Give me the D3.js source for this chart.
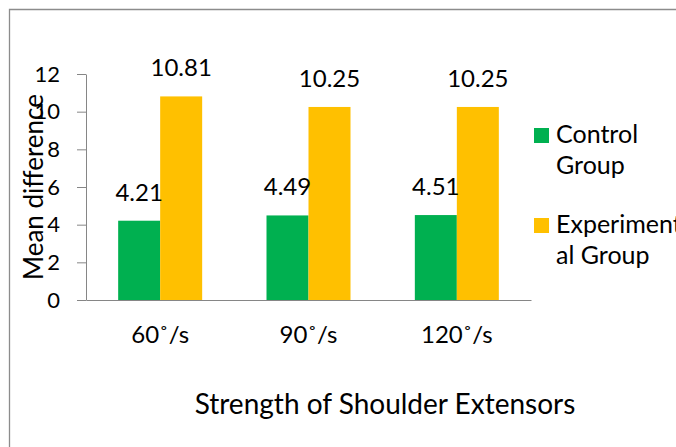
<!DOCTYPE html>
<html>
<head>
<meta charset="utf-8">
<script src="https://cdn.jsdelivr.net/npm/d3@7"></script>
<style>
  body { margin: 0; background: #fff; }
  text { font-family: Lato, "Liberation Sans", sans-serif; fill: #000; }
</style>
</head>
<body>
<div id="chart"></div>
<script>
// data
var categories = ["60˚/s", "90˚/s", "120˚/s"];
var seriesNames = ["Control Group", "Experimental Group"];
var controlValues = [4.21, 4.49, 4.51];
var experimentalValues = [10.81, 10.25, 10.25];
var yTicks = [0, 2, 4, 6, 8, 10, 12];
var legendLines = [["Control", "Group"], ["Experiment", "al Group"]];
var colors = ["#00B050", "#FFC000"];

var width = 676, height = 447;

var svg = d3.select("#chart").append("svg")
    .attr("width", width)
    .attr("height", height);

// outer chart border (only top and left are inside the picture)
svg.append("path")
    .attr("d", "M9.5," + height + "V9.5H" + width)
    .attr("fill", "none")
    .attr("stroke", "#8c8c8c")
    .attr("stroke-width", 1.3);

var x0 = d3.scaleBand()
    .domain(categories)
    .range([86, 531]);

var barW = 42;
var x1 = d3.scaleBand()
    .domain(seriesNames)
    .range([(x0.bandwidth() - 2 * barW) / 2, (x0.bandwidth() + 2 * barW) / 2]);

var y = d3.scaleLinear()
    .domain([0, 12])
    .range([300, 74]);

var rows = categories.map(function(c, i) {
    return {cat: c, vals: [controlValues[i], experimentalValues[i]]};
});

// bars
var groups = svg.append("g").selectAll("g")
    .data(rows)
    .enter().append("g")
    .attr("transform", function(d) { return "translate(" + x0(d.cat) + ",0)"; });

groups.selectAll("rect")
    .data(function(d) { return d.vals.map(function(v, j) { return {s: seriesNames[j], v: v, j: j}; }); })
    .enter().append("rect")
    .attr("x", function(d) { return x1(d.s); })
    .attr("width", x1.bandwidth())
    .attr("y", function(d) { return y(d.v); })
    .attr("height", function(d) { return y(0) - y(d.v); })
    .attr("fill", function(d) { return colors[d.j]; });

groups.selectAll("text")
    .data(function(d) { return d.vals.map(function(v, j) { return {s: seriesNames[j], v: v}; }); })
    .enter().append("text")
    .attr("x", function(d) { return x1(d.s) + x1.bandwidth() / 2; })
    .attr("y", function(d) { return y(d.v) - 20; })
    .attr("text-anchor", "middle")
    .style("font-size", "24px")
    .text(function(d) { return d.v.toFixed(2); });

// y axis
var yAxis = svg.append("g")
    .attr("transform", "translate(86,0)")
    .call(d3.axisLeft(y).tickValues(yTicks).tickSize(9).tickSizeOuter(0).tickPadding(17));
yAxis.selectAll("text").style("font-size", "22px");

// x axis
var xAxis = svg.append("g")
    .attr("transform", "translate(0,300)")
    .call(d3.axisBottom(x0).tickSize(0).tickPadding(26));
xAxis.selectAll("text").style("font-size", "24px");
xAxis.selectAll(".tick line").remove();
xAxis.selectAll(".boundary")
    .data(d3.range(categories.length + 1))
    .enter().append("line")
    .attr("x1", function(i) { return 86 + i * x0.step(); })
    .attr("x2", function(i) { return 86 + i * x0.step(); })
    .attr("y1", 0).attr("y2", 9);

svg.selectAll(".domain, .tick line, .boundary")
    .attr("stroke", "#868686");

// axis titles
svg.append("text")
    .attr("transform", "translate(43,187) rotate(-90)")
    .attr("text-anchor", "middle")
    .style("font-size", "26px")
    .text("Mean difference");

svg.append("text")
    .attr("x", 385)
    .attr("y", 414)
    .attr("text-anchor", "middle")
    .style("font-size", "28px")
    .text("Strength of Shoulder Extensors");

// legend
var legend = svg.append("g").selectAll("g")
    .data(legendLines)
    .enter().append("g")
    .attr("transform", function(d, i) { return "translate(534," + (128 + i * 90) + ")"; });

legend.append("rect")
    .attr("width", 15).attr("height", 15)
    .attr("fill", function(d, i) { return colors[i]; });

legend.append("text")
    .attr("x", 22)
    .style("font-size", "25px")
    .selectAll("tspan")
    .data(function(d) { return d; })
    .enter().append("tspan")
    .attr("x", 22)
    .attr("y", function(d, k) { return 15 + k * 31; })
    .text(function(d) { return d; });
</script>
</body>
</html>
